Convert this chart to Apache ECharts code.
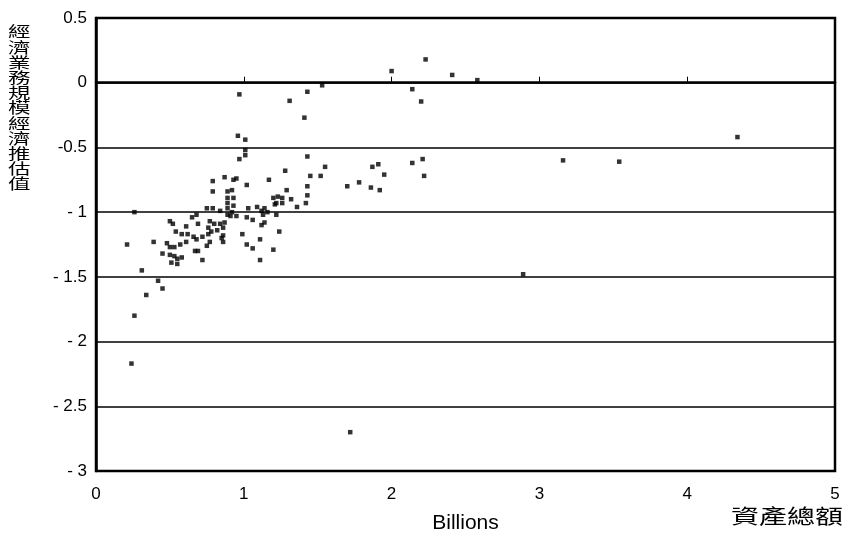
<!DOCTYPE html>
<html><head><meta charset="utf-8">
<script src="https://cdn.jsdelivr.net/npm/echarts@6/dist/echarts.min.js"></script>
<style>html,body{margin:0;padding:0;background:#fff}#c{width:845px;height:539px}</style>
</head><body><div id="c"></div>
<script>
// Total assets (billions) for each bank
const assetBillions = [
  2.00,2.23,2.41,2.58,2.14,2.20,1.53,1.43,0.97,1.31,
  1.41,0.96,1.01,1.01,1.01,0.97,1.43,1.55,1.87,1.91,
  1.95,2.14,2.21,2.22,1.28,1.45,1.52,1.43,1.43,1.70,
  1.78,1.86,1.92,1.17,1.29,0.79,0.87,0.93,0.95,1.02,
  0.79,0.89,0.92,0.93,0.89,0.93,1.20,1.23,1.26,1.22,
  1.26,1.32,1.36,1.42,0.75,0.79,0.84,0.89,0.92,1.03,
  1.09,1.12,1.14,1.22,0.26,0.68,0.89,0.91,0.95,1.02,
  1.06,1.13,1.16,0.50,0.52,0.61,0.65,0.69,0.77,0.80,
  0.84,0.87,0.76,0.78,0.82,0.86,1.12,1.14,1.24,0.54,
  0.58,0.62,0.66,0.68,0.72,0.76,0.86,0.99,1.11,0.39,
  0.48,0.50,0.53,0.57,0.61,0.67,0.69,0.75,0.77,0.85,
  0.86,1.02,1.06,1.20,0.21,0.45,0.50,0.53,0.58,0.51,
  0.55,0.55,0.72,1.11,0.31,0.42,0.45,0.34,0.26,0.24,
  1.72,3.16,3.54,4.34,2.89,0.89,1.21
];
// Estimated scale economies of the business
const scaleEstimate = [
  0.09,0.18,0.06,0.02,-0.05,-0.145,-0.02,-0.07,-0.09,-0.14,
  -0.27,-0.41,-0.44,-0.52,-0.56,-0.59,-0.57,-0.65,-0.65,-0.63,
  -0.71,-0.62,-0.59,-0.72,-0.68,-0.72,-0.72,-0.80,-0.87,-0.80,
  -0.77,-0.81,-0.83,-0.75,-0.83,-0.76,-0.73,-0.75,-0.74,-0.79,
  -0.84,-0.84,-0.83,-0.89,-0.93,-0.95,-0.89,-0.88,-0.89,-0.93,
  -0.93,-0.90,-0.96,-0.93,-0.97,-0.97,-0.99,-0.97,-1.00,-0.97,
  -0.96,-0.99,-0.97,-1.02,-1.00,-1.02,-1.02,-1.03,-1.03,-1.04,
  -1.06,-1.02,-1.00,-1.07,-1.09,-1.11,-1.04,-1.09,-1.07,-1.09,
  -1.09,-1.08,-1.12,-1.15,-1.14,-1.12,-1.10,-1.08,-1.15,-1.15,
  -1.17,-1.17,-1.19,-1.21,-1.19,-1.17,-1.18,-1.17,-1.21,-1.23,
  -1.24,-1.27,-1.27,-1.25,-1.23,-1.30,-1.30,-1.26,-1.23,-1.20,
  -1.23,-1.25,-1.28,-1.29,-1.25,-1.32,-1.33,-1.34,-1.35,-1.39,
  -1.40,-1.36,-1.37,-1.37,-1.45,-1.53,-1.59,-1.64,-1.80,-2.17,
  -2.70,-0.60,-0.61,-0.42,-1.48,-0.89,-0.94
];
const yTickValues = [0.5, 0, -0.5, -1, -1.5, -2, -2.5, -3];
const yTickText   = ['0.5', '0', '-0.5', '- 1', '- 1.5', '- 2', '- 2.5', '- 3'];
const xTickText   = ['0', '1', '2', '3', '4', '5'];
const yAxisTitle = '經濟業務規模經濟推估值';
const xAxisTitle = 'Billions';
const xUnitTitle = '資產總額';

const points = assetBillions.map((x, i) => [x, scaleEstimate[i]]);
const chart = echarts.init(document.getElementById('c'));
const FONT = '"Liberation Sans", Arial, sans-serif';
const CJK = '"Noto Sans CJK TC", "Noto Sans CJK SC", sans-serif';

chart.setOption({
  animation: false,
  backgroundColor: '#fff',
  grid: { left: 96, right: 10, top: 18, bottom: 61, show: true, borderColor: '#000', borderWidth: 2.5 },
  xAxis: {
    type: 'value', min: 0, max: 5, interval: 1,
    name: xAxisTitle, nameLocation: 'middle', nameGap: 42,
    nameTextStyle: { color: '#000', fontSize: 21, fontFamily: FONT },
    axisLine: { show: true, lineStyle: { color: '#000', width: 2.5 } },
    axisTick: { show: true, inside: true, length: 6, lineStyle: { color: '#000', width: 1 } },
    axisLabel: { color: '#000', fontSize: 17, fontFamily: FONT, margin: 15,
      formatter: v => xTickText[Math.round(v)] },
    splitLine: { show: false }
  },
  yAxis: {
    type: 'value', min: -3, max: 0.5, interval: 0.5,
    axisLine: { show: true, lineStyle: { color: '#000', width: 2.5 } },
    axisTick: { show: false },
    axisLabel: { color: '#000', fontSize: 17, fontFamily: FONT, margin: 9,
      formatter: v => { const i = yTickValues.findIndex(t => Math.abs(t - v) < 1e-6); return i >= 0 ? yTickText[i] : ''; } },
    splitLine: { show: true, lineStyle: { color: '#000', width: 1.5 } }
  },
  graphic: [
    { type: 'text', left: 8, top: 24, scaleX: 1.5,
      style: { text: yAxisTitle.split('').join('\n'), font: '15px ' + CJK, lineHeight: 15.2, fill: '#000' } },
    { type: 'text', left: 731, top: 506, scaleX: 1.4,
      style: { text: xUnitTitle, font: '20px ' + CJK, fill: '#000' } }
  ],
  series: [{
    type: 'scatter', data: points, symbol: 'rect', symbolSize: 4.5,
    itemStyle: { color: '#000' }
  }]
});
</script>
</body></html>
